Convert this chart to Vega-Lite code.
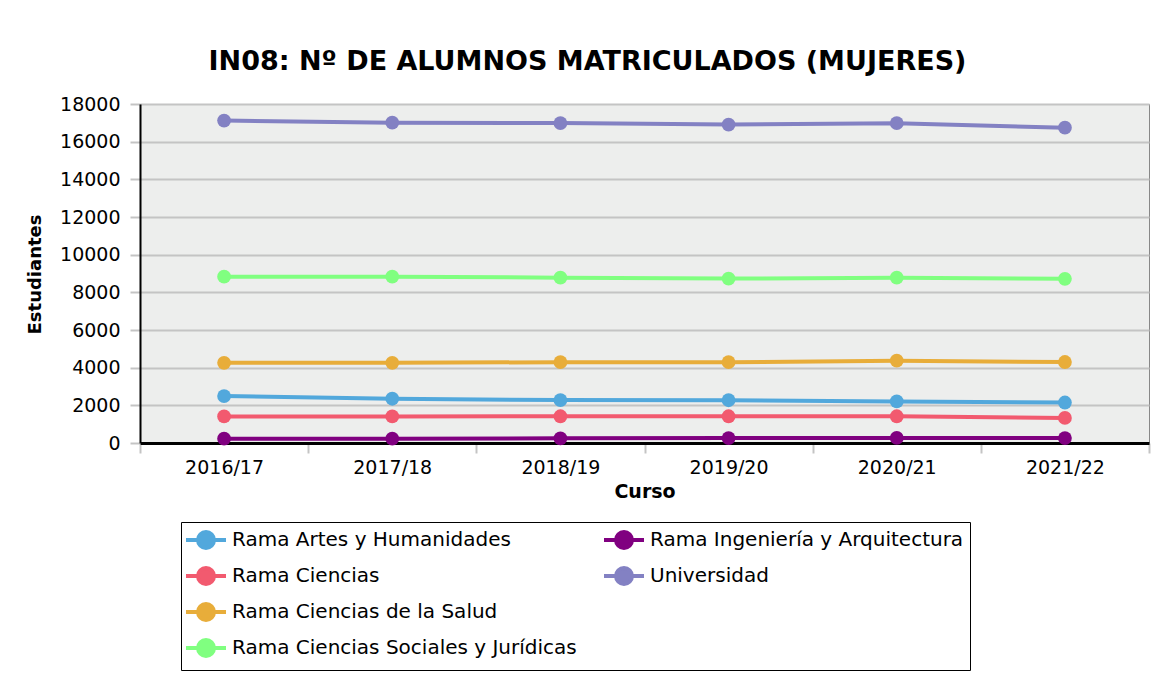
{
  "$schema": "https://vega.github.io/schema/vega-lite/v6.json",
  "width": 1009,
  "height": 339,
  "autosize": {"type": "none"},
  "padding": {"left": 140, "top": 104, "right": 5, "bottom": 234},
  "background": "white",
  "title": {
    "text": "IN08: Nº DE ALUMNOS MATRICULADOS (MUJERES)",
    "font": "DejaVu Sans",
    "fontSize": 27,
    "fontWeight": "bold",
    "color": "black",
    "anchor": "middle",
    "dx": -57,
    "dy": 23,
    "baseline": "alphabetic",
    "offset": 21
  },
  "config": {
    "view": {"fill": "#edeeed", "stroke": "#888888", "strokeWidth": 1},
    "font": "DejaVu Sans"
  },
  "data": {
    "values": [
      {"curso": "2016/17", "serie": "Universidad", "valor": 17120},
      {"curso": "2017/18", "serie": "Universidad", "valor": 17010},
      {"curso": "2018/19", "serie": "Universidad", "valor": 16990},
      {"curso": "2019/20", "serie": "Universidad", "valor": 16910},
      {"curso": "2020/21", "serie": "Universidad", "valor": 16980},
      {"curso": "2021/22", "serie": "Universidad", "valor": 16740},
      {"curso": "2016/17", "serie": "Rama Ciencias Sociales y Jurídicas", "valor": 8830},
      {"curso": "2017/18", "serie": "Rama Ciencias Sociales y Jurídicas", "valor": 8830},
      {"curso": "2018/19", "serie": "Rama Ciencias Sociales y Jurídicas", "valor": 8780},
      {"curso": "2019/20", "serie": "Rama Ciencias Sociales y Jurídicas", "valor": 8730},
      {"curso": "2020/21", "serie": "Rama Ciencias Sociales y Jurídicas", "valor": 8780},
      {"curso": "2021/22", "serie": "Rama Ciencias Sociales y Jurídicas", "valor": 8720},
      {"curso": "2016/17", "serie": "Rama Ciencias de la Salud", "valor": 4260},
      {"curso": "2017/18", "serie": "Rama Ciencias de la Salud", "valor": 4260},
      {"curso": "2018/19", "serie": "Rama Ciencias de la Salud", "valor": 4290},
      {"curso": "2019/20", "serie": "Rama Ciencias de la Salud", "valor": 4290},
      {"curso": "2020/21", "serie": "Rama Ciencias de la Salud", "valor": 4370},
      {"curso": "2021/22", "serie": "Rama Ciencias de la Salud", "valor": 4300},
      {"curso": "2016/17", "serie": "Rama Artes y Humanidades", "valor": 2490},
      {"curso": "2017/18", "serie": "Rama Artes y Humanidades", "valor": 2350},
      {"curso": "2018/19", "serie": "Rama Artes y Humanidades", "valor": 2280},
      {"curso": "2019/20", "serie": "Rama Artes y Humanidades", "valor": 2270},
      {"curso": "2020/21", "serie": "Rama Artes y Humanidades", "valor": 2210},
      {"curso": "2021/22", "serie": "Rama Artes y Humanidades", "valor": 2150},
      {"curso": "2016/17", "serie": "Rama Ciencias", "valor": 1410},
      {"curso": "2017/18", "serie": "Rama Ciencias", "valor": 1410},
      {"curso": "2018/19", "serie": "Rama Ciencias", "valor": 1420},
      {"curso": "2019/20", "serie": "Rama Ciencias", "valor": 1420},
      {"curso": "2020/21", "serie": "Rama Ciencias", "valor": 1420},
      {"curso": "2021/22", "serie": "Rama Ciencias", "valor": 1330},
      {"curso": "2016/17", "serie": "Rama Ingeniería y Arquitectura", "valor": 230},
      {"curso": "2017/18", "serie": "Rama Ingeniería y Arquitectura", "valor": 230},
      {"curso": "2018/19", "serie": "Rama Ingeniería y Arquitectura", "valor": 250},
      {"curso": "2019/20", "serie": "Rama Ingeniería y Arquitectura", "valor": 260},
      {"curso": "2020/21", "serie": "Rama Ingeniería y Arquitectura", "valor": 270},
      {"curso": "2021/22", "serie": "Rama Ingeniería y Arquitectura", "valor": 260}
    ]
  },
  "mark": {
    "type": "line",
    "strokeWidth": 4,
    "point": {"size": 190, "filled": true, "opacity": 1}
  },
  "encoding": {
    "x": {
      "field": "curso",
      "type": "ordinal",
      "scale": {"type": "band", "paddingInner": 0, "paddingOuter": 0},
      "axis": {
        "title": "Curso",
        "titleFont": "DejaVu Sans",
        "titleFontSize": 19,
        "titleFontWeight": "bold",
        "titleColor": "black",
        "titlePadding": 5,
        "labelAngle": 0,
        "labelFont": "DejaVu Sans",
        "labelFontSize": 19,
        "labelColor": "black",
        "labelPadding": 5,
        "tickBand": "extent",
        "tickColor": "#c4c4c4",
        "tickWidth": 2,
        "tickSize": 10,
        "domainColor": "black",
        "domainWidth": 3,
        "grid": false
      }
    },
    "y": {
      "field": "valor",
      "type": "quantitative",
      "scale": {"domain": [0, 18000], "nice": false},
      "axis": {
        "title": "Estudiantes",
        "titleFont": "DejaVu Sans",
        "titleFontSize": 18,
        "titleFontWeight": "bold",
        "titleColor": "black",
        "titleAngle": -90,
        "titleX": -105,
        "titleY": 170,
        "titleAlign": "center",
        "titleBaseline": "middle",
        "values": [0, 2000, 4000, 6000, 8000, 10000, 12000, 14000, 16000, 18000],
        "format": "d",
        "labelFont": "DejaVu Sans",
        "labelFontSize": 19,
        "labelColor": "black",
        "labelPadding": 10,
        "tickColor": "#c4c4c4",
        "tickWidth": 2,
        "tickSize": 10,
        "domainColor": "black",
        "domainWidth": 2,
        "grid": true,
        "gridColor": "#c4c4c4",
        "gridWidth": 2,
        "gridOpacity": 1
      }
    },
    "color": {
      "field": "serie",
      "type": "nominal",
      "scale": {
        "domain": ["Rama Artes y Humanidades", "Rama Ciencias", "Rama Ciencias de la Salud", "Rama Ciencias Sociales y Jurídicas", "Rama Ingeniería y Arquitectura", "Universidad", " ", "  "],
        "range": ["#52a8dc", "#f25a6f", "#e8ad3a", "#80ff80", "#800080", "#8381c3", "rgba(0,0,0,0)", "rgba(0,0,0,0)"]
      },
      "legend": {
        "title": null,
        "orient": "none",
        "legendX": 41,
        "legendY": 418,
        "direction": "vertical",
        "columns": 2,
        "columnPadding": 19,
        "rowPadding": 4,
        "padding": 6,
        "strokeColor": "black",
        "fillColor": "white",
        "symbolType": "M-1.3,0H2.7M-0.1,0A0.8,0.8 0 1,1 1.5,0A0.8,0.8 0 1,1 -0.1,0Z",
        "symbolSize": 400,
        "symbolStrokeWidth": 4,
        "labelFont": "DejaVu Sans",
        "labelFontSize": 20,
        "labelColor": "black",
        "labelOffset": 21,
        "labelLimit": 500,
        "encode": {
          "symbols": {
            "update": {
              "fill": {"scale": "color", "field": "value"},
              "stroke": {"scale": "color", "field": "value"},
              "strokeWidth": {"value": 4},
              "opacity": {"value": 1}
            }
          }
        }
      }
    }
  }
}
